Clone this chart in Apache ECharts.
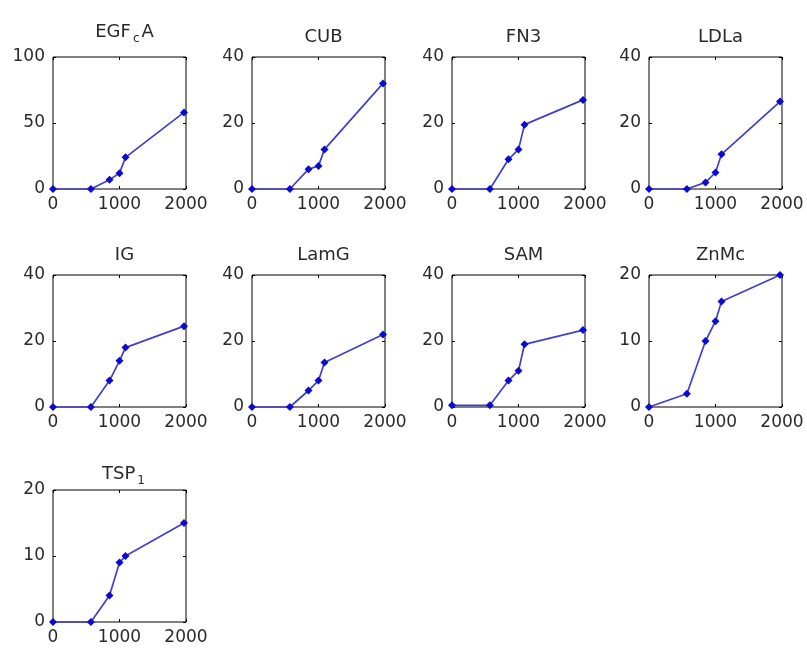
<!DOCTYPE html>
<html lang="en">
<head>
    <meta charset="UTF-8">
    <title>Domains</title>
    <script src="https://cdn.jsdelivr.net/npm/echarts@6/dist/echarts.min.js"></script>
</head>
<body style="margin:0;background:#fff">
    <div id="main" style="width: 807px;height:648px;"></div>
    <script type="text/javascript">
        // x positions shared by every panel
        var xs = [0, 570, 850, 1000, 1090, 1970];

        // panel titles (rich text for subscripts)
        var titles = ['EGF{sub|c}A', 'CUB', 'FN3', 'LDLa', 'IG', 'LamG', 'SAM', 'ZnMc', 'TSP{sub|1}'];

        // y values per panel
        var egfca = [0, 0, 7, 12, 24, 58];
        var cub   = [0, 0, 6, 7, 12, 32];
        var fn3   = [0, 0, 9, 12, 19.5, 27];
        var ldla  = [0, 0, 2, 5, 10.5, 26.5];
        var ig    = [0, 0, 8, 14, 18, 24.5];
        var lamg  = [0, 0, 5, 8, 13.5, 22];
        var sam   = [0.5, 0.5, 8, 11, 19, 23.3];
        var znmc  = [0, 2, 10, 13, 16, 20];
        var tsp1  = [0, 0, 4, 9, 10, 15];
        var values = [egfca, cub, fn3, ldla, ig, lamg, sam, znmc, tsp1];

        // y axis ranges
        var yMax  = [100, 40, 40, 40, 40, 40, 40, 20, 20];
        var yStep = [50, 20, 20, 20, 20, 20, 20, 10, 10];

        var colLeft = [53, 252, 452, 649];
        var rowTop = [57, 275, 490];
        var W = 133, H = 132;
        var txt = '#2a2a2a';
        var fontF = 'DejaVu Sans, sans-serif';

        var grids = [], xAxes = [], yAxes = [], series = [], title = [];
        var tick = {inside: true, length: 3, lineStyle: {color: '#000'}};

        for (var i = 0; i < values.length; i++) {
            var l = colLeft[i % 4], t = rowTop[Math.floor(i / 4)];
            grids.push({left: l, top: t, width: W, height: H,
                show: true, borderColor: '#000', borderWidth: 1, backgroundColor: '#fff'});

            // EGFcA title sits a bit higher in the original
            var up = i === 0 ? 9 : 0;
            title.push({
                text: titles[i],
                left: l + W / 2, top: t - 34 - up, textAlign: 'center',
                textStyle: {
                    fontFamily: fontF, fontSize: 18, fontWeight: 'normal', color: txt,
                    rich: {sub: {fontSize: 12, padding: [14, 2, 0, 2], fontFamily: fontF, color: txt}}
                }
            });

            // bottom/left axes with labels
            xAxes.push({gridIndex: i, type: 'value', min: 0, max: 2000, interval: 1000,
                axisLine: {show: false, onZero: false}, splitLine: {show: false}, axisTick: tick,
                axisLabel: {color: txt, fontSize: 17, fontFamily: fontF, margin: 7,
                    formatter: function (v) { return String(v); }}});
            yAxes.push({gridIndex: i, type: 'value', min: 0, max: yMax[i], interval: yStep[i],
                axisLine: {show: false, onZero: false}, splitLine: {show: false}, axisTick: tick,
                axisLabel: {color: txt, fontSize: 17, fontFamily: fontF, margin: 8}});
            // mirror ticks on top/right
            xAxes.push({gridIndex: i, type: 'value', position: 'top', min: 0, max: 2000, interval: 1000,
                axisLine: {show: false, onZero: false}, splitLine: {show: false}, axisLabel: {show: false},
                axisTick: tick});
            yAxes.push({gridIndex: i, type: 'value', position: 'right', min: 0, max: yMax[i], interval: yStep[i],
                axisLine: {show: false, onZero: false}, splitLine: {show: false}, axisLabel: {show: false},
                axisTick: tick});

            series.push({
                type: 'line',
                xAxisIndex: 2 * i, yAxisIndex: 2 * i,
                data: xs.map(function (x, k) { return [x, values[i][k]]; }),
                symbol: 'diamond', symbolSize: 8,
                clip: false,
                lineStyle: {color: '#4040c8', width: 1.7},
                itemStyle: {color: '#0a0ad0'}
            });
        }

        var myChart = echarts.init(document.getElementById('main'));
        myChart.setOption({
            backgroundColor: '#fff',
            animation: false,
            title: title,
            grid: grids,
            xAxis: xAxes,
            yAxis: yAxes,
            series: series
        });
    </script>
</body>
</html>
